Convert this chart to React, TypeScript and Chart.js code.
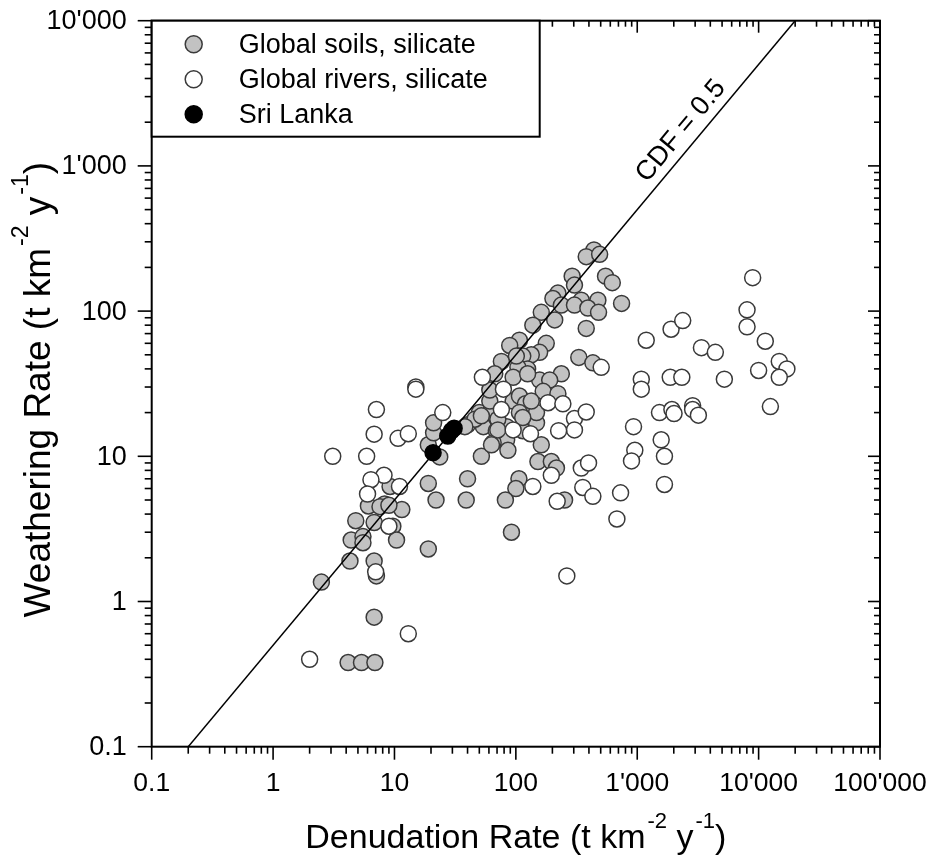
import React, { useEffect, useRef } from 'react';
import { Chart, registerables } from 'chart.js';

Chart.register(...registerables);

// ---------- data (t km^-2 y^-1) ----------
const soilsX = [440, 380, 490, 291, 548, 623, 304, 222, 202, 346, 474, 743, 237, 304, 392, 480, 162, 209, 138, 380,
  107, 178, 89, 157, 134, 76, 114, 330, 431, 125, 104, 95, 237, 157, 190, 125, 168, 222, 130, 95,
  148, 84, 84, 86, 162, 152, 196, 216, 106, 100, 82, 252, 92, 40, 39, 22, 19, 23.6, 19, 21,
  21, 40, 54, 50, 61, 69, 65, 52, 107, 120, 46, 52, 71, 71, 114, 148, 61, 61, 134, 38,
  63, 101, 67, 8.3, 11.5, 9.2, 6.1, 7.6, 9.0, 4.8, 6.8, 4.4, 5.5, 5.5, 9.7, 10.4, 4.3, 6.8, 7.1, 2.5,
  6.8, 4.15, 5.35, 6.9, 19, 107, 114];
const soilsY = [264, 237, 246, 174, 174, 157, 151, 133, 122, 119, 119, 113, 110, 110, 105, 98, 98, 87, 80, 76,
  63, 60, 58, 52, 50, 45, 49, 48, 44, 40, 41, 35, 37, 33.5, 33.5, 37, 28, 27, 22, 24,
  17, 16, 13, 11, 12, 9.2, 9.2, 8.3, 7, 6, 5, 5, 3, 7, 5, 5, 6.5, 9.9, 12, 14.5,
  17, 16.5, 16, 20, 20, 15, 12.4, 10, 26, 23, 18, 19, 18, 15.2, 15, 20, 24, 28.6, 24, 16,
  12, 49, 37, 4.7, 4.3, 6.2, 4.55, 4.5, 4.6, 3.6, 3.5, 2.65, 2.8, 2.54, 3.3, 2.65, 1.9, 1.9, 1.5, 1.36,
  0.78, 0.38, 0.38, 0.38, 2.3, 20, 18.5];

const riversX = [15, 15, 53, 79, 76, 25, 95, 132, 184, 244, 304, 380, 304, 225, 10.7, 13, 7.1, 6.8, 3.1, 5.9,
  8.2, 6.4, 6.0, 11, 9.0, 7.0, 2.0, 138, 196, 346, 397, 356, 431, 219, 729, 680, 505, 932, 955, 897,
  1676, 1575, 1676, 263, 1080, 1080, 1186, 1900, 2370, 3380, 4400, 1870, 2330, 5220, 1525, 1930, 2010, 2860, 2860, 3190,
  8030, 8030, 8930, 11350, 14800, 17100, 10000, 14800, 12500, 13];
const riversY = [30, 29, 35, 29, 21, 20, 15.2, 14.3, 23.4, 23, 18.2, 20.2, 15.2, 15, 13.3, 14.3, 21, 14.2, 10, 10,
  7.4, 6.9, 5.5, 6.2, 3.3, 1.6, 0.4, 6.2, 7.4, 8.3, 9, 6.1, 5.3, 4.9, 5.6, 3.7, 41, 16, 11, 9.3,
  10, 13, 6.4, 1.5, 34, 29, 63, 75, 86, 56, 52, 35, 35, 34, 20, 21, 19.7, 22.3, 21, 19.2,
  102, 78, 170, 62, 45, 40, 39, 35, 22, 0.6];

const sriLankaX = [20.8, 27.5, 29.5, 31];
const sriLankaY = [10.6, 13.8, 15, 15.6];

const cdfX = [0.2, 20000];
const cdfY = [0.1, 10000];

const xMajorTicks = [0.1, 1, 10, 100, 1000, 10000, 100000];
const xTickLabels = ['0.1', '1', '10', '100', "1'000", "10'000", "100'000"];
const yMajorTicks = [0.1, 1, 10, 100, 1000, 10000];
const yTickLabels = ['0.1', '1', '10', '100', "1'000", "10'000"];

const legendLabels = ['Global soils, silicate', 'Global rivers, silicate', 'Sri Lanka'];
const cdfLabel = 'CDF = 0.5';
const cdfLabelAt = { x: 2290, y: 1740 };

const xTitleParts: [string, boolean][] = [['Denudation Rate (t km', false], ['-2', true], [' y', false], ['-1', true], [')', false]];
const yTitleParts: [string, boolean][] = [['Weathering Rate (t km', false], ['-2', true], [' y', false], ['-1', true], [')', false]];

// ---------- styles ----------
const FONT = '"Liberation Sans", Arial, Helvetica, sans-serif';
const SOIL_FILL = '#c2c2c2';
const EDGE = '#3a3a3a';

const zip = (xs: number[], ys: number[]) => xs.map((x, i) => ({ x, y: ys[i] }));

function drawTitle(
  ctx: CanvasRenderingContext2D,
  parts: [string, boolean][],
  cx: number,
  baseY: number,
  mainSize: number,
  supSize: number,
  raise: number,
) {
  const main = `${mainSize}px ${FONT}`;
  const sup = `${supSize}px ${FONT}`;
  const gap = 2;
  let total = 0;
  const widths = parts.map(([t, s]) => {
    ctx.font = s ? sup : main;
    const w = ctx.measureText(t).width + (s ? gap : 0);
    total += w;
    return w;
  });
  let x = cx - total / 2;
  ctx.textAlign = 'left';
  ctx.textBaseline = 'alphabetic';
  parts.forEach(([t, s], i) => {
    ctx.font = s ? sup : main;
    ctx.fillText(t, x + (s ? gap : 0), s ? baseY - raise : baseY);
    x += widths[i];
  });
}

const framePlugin = {
  id: 'framePlugin',
  beforeDraw(chart: any) {
    const ctx = chart.ctx;
    ctx.save();
    ctx.fillStyle = '#fff';
    ctx.fillRect(0, 0, chart.width, chart.height);
    ctx.restore();
  },
  afterDraw(chart: any) {
    const { ctx, chartArea: a, scales } = chart;
    const xs = scales.x;
    const ys = scales.y;
    ctx.save();
    ctx.strokeStyle = '#000';
    ctx.fillStyle = '#000';

    // frame
    ctx.lineWidth = 2;
    ctx.strokeRect(a.left, a.top, a.right - a.left, a.bottom - a.top);

    // ticks
    ctx.lineWidth = 1.6;
    const seg = (x1: number, y1: number, x2: number, y2: number) => {
      ctx.beginPath();
      ctx.moveTo(x1, y1);
      ctx.lineTo(x2, y2);
      ctx.stroke();
    };
    xMajorTicks.forEach((v, i) => {
      const p = xs.getPixelForValue(v);
      seg(p, a.bottom, p, a.bottom + 13);
      seg(p, a.top, p, a.top + 12);
      if (i < xMajorTicks.length - 1) {
        for (let m = 2; m <= 9; m++) {
          const q = xs.getPixelForValue(v * m);
          seg(q, a.bottom, q, a.bottom + 7);
          seg(q, a.top, q, a.top + 6);
        }
      }
    });
    yMajorTicks.forEach((v, i) => {
      const p = ys.getPixelForValue(v);
      seg(a.left - 14, p, a.left, p);
      seg(a.right - 12, p, a.right, p);
      if (i < yMajorTicks.length - 1) {
        for (let m = 2; m <= 9; m++) {
          const q = ys.getPixelForValue(v * m);
          seg(a.left - 7, q, a.left, q);
          seg(a.right - 6, q, a.right, q);
        }
      }
    });

    // tick labels
    ctx.font = `26.5px ${FONT}`;
    ctx.textAlign = 'center';
    ctx.textBaseline = 'middle';
    xMajorTicks.forEach((v, i) => {
      ctx.fillText(xTickLabels[i], xs.getPixelForValue(v), a.bottom + 37);
    });
    ctx.font = `27px ${FONT}`;
    ctx.textAlign = 'right';
    yMajorTicks.forEach((v, i) => {
      ctx.fillText(yTickLabels[i], a.left - 25, ys.getPixelForValue(v) + 1);
    });

    // axis titles
    drawTitle(ctx, xTitleParts, (a.left + a.right) / 2, 848, 34, 22, 20);
    ctx.save();
    ctx.translate(50, (a.top + a.bottom) / 2 + 6);
    ctx.rotate(-Math.PI / 2);
    drawTitle(ctx, yTitleParts, 0, 0, 37, 23, 22);
    ctx.restore();

    // CDF label
    const p0x = xs.getPixelForValue(cdfX[0]);
    const p0y = ys.getPixelForValue(cdfY[0]);
    const p1x = xs.getPixelForValue(cdfX[1]);
    const p1y = ys.getPixelForValue(cdfY[1]);
    const ang = Math.atan2(p1y - p0y, p1x - p0x);
    ctx.save();
    ctx.translate(xs.getPixelForValue(cdfLabelAt.x), ys.getPixelForValue(cdfLabelAt.y));
    ctx.rotate(ang);
    ctx.font = `27px ${FONT}`;
    ctx.textAlign = 'center';
    ctx.textBaseline = 'middle';
    ctx.fillText(cdfLabel, 0, 0);
    ctx.restore();

    // legend
    const lw = 388;
    const lh = 116;
    ctx.fillStyle = '#fff';
    ctx.fillRect(a.left, a.top, lw, lh);
    ctx.lineWidth = 2;
    ctx.strokeStyle = '#000';
    ctx.strokeRect(a.left, a.top, lw, lh);
    const fills = [SOIL_FILL, '#ffffff', '#000000'];
    const edges = [EDGE, EDGE, '#000000'];
    legendLabels.forEach((lab, i) => {
      const cy = a.top + 23.5 + i * 35;
      ctx.beginPath();
      ctx.arc(a.left + 42, cy, 8.5, 0, Math.PI * 2);
      ctx.fillStyle = fills[i];
      ctx.fill();
      ctx.lineWidth = 1.5;
      ctx.strokeStyle = edges[i];
      ctx.stroke();
      ctx.fillStyle = '#000';
      ctx.font = `27px ${FONT}`;
      ctx.textAlign = 'left';
      ctx.textBaseline = 'middle';
      ctx.fillText(lab, a.left + 87, cy + 1);
    });
    ctx.restore();
  },
};

export default function App() {
  const ref = useRef<HTMLCanvasElement | null>(null);
  useEffect(() => {
    if (!ref.current) return;
    const chart = new Chart(ref.current, {
      type: 'scatter',
      data: {
        datasets: [
          {
            type: 'line',
            label: 'CDF = 0.5',
            data: zip(cdfX, cdfY),
            borderColor: '#000',
            borderWidth: 1.5,
            pointRadius: 0,
            fill: false,
            order: 0,
          } as any,
          {
            label: legendLabels[2],
            data: zip(sriLankaX, sriLankaY),
            backgroundColor: '#000',
            borderColor: '#000',
            borderWidth: 1.5,
            pointRadius: 8,
            order: 1,
          },
          {
            label: legendLabels[1],
            data: zip(riversX, riversY),
            backgroundColor: '#fff',
            borderColor: EDGE,
            borderWidth: 1.5,
            pointRadius: 8,
            order: 2,
          },
          {
            label: legendLabels[0],
            data: zip(soilsX, soilsY),
            backgroundColor: SOIL_FILL,
            borderColor: EDGE,
            borderWidth: 1.5,
            pointRadius: 8,
            order: 3,
          },
        ],
      },
      options: {
        responsive: false,
        maintainAspectRatio: false,
        animation: false,
        devicePixelRatio: 1,
        events: [],
        layout: { padding: { left: 0, right: 53, top: 20.7, bottom: 0 } },
        plugins: { legend: { display: false }, tooltip: { enabled: false } },
        scales: {
          x: {
            type: 'logarithmic',
            min: 0.1,
            max: 100000,
            grid: { display: false },
            border: { display: false },
            ticks: { display: false },
            afterFit: (s: any) => { s.height = 111.3; },
          },
          y: {
            type: 'logarithmic',
            min: 0.1,
            max: 10000,
            grid: { display: false },
            border: { display: false },
            ticks: { display: false },
            afterFit: (s: any) => { s.width = 151.7; },
          },
        },
      } as any,
      plugins: [framePlugin],
    });
    return () => chart.destroy();
  }, []);
  return (
    <div style={{ position: 'fixed', left: 0, top: 0, width: 933, height: 858, background: '#fff' }}>
      <canvas ref={ref} width={933} height={858} style={{ display: 'block' }} />
    </div>
  );
}
